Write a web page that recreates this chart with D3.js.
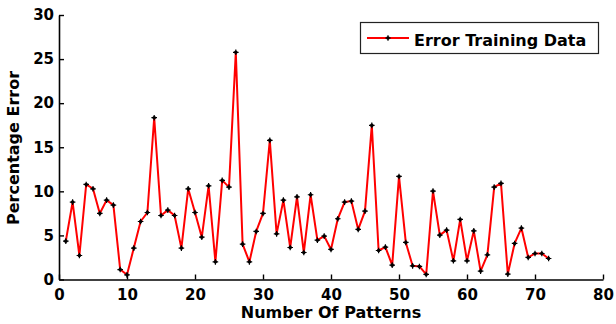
<!DOCTYPE html>
<html>
<head>
<meta charset="utf-8">
<script src="https://cdn.jsdelivr.net/npm/d3@7"></script>
<style>
  html, body { margin: 0; padding: 0; background: #fff; }
  svg { display: block; }
  text { font-family: "DejaVu Sans", sans-serif; font-weight: bold; fill: #000; }
</style>
</head>
<body>
<svg id="chart" width="616" height="324"></svg>
<script>
// Percentage error per training pattern
const patterns = d3.range(1, 73);
const errorValues = [
  4.35, 8.78, 2.72, 10.78, 10.29, 7.49, 9.0, 8.44, 1.13, 0.53,
  3.56, 6.58, 7.6, 18.35, 7.26, 7.87, 7.26, 3.56, 10.29, 7.6,
  4.8, 10.63, 2.0, 11.24, 10.48, 25.77, 4.01, 2.0, 5.45, 7.49,
  15.78, 5.18, 9.0, 3.63, 9.38, 3.06, 9.61, 4.46, 4.92, 3.41,
  6.89, 8.78, 8.89, 5.68, 7.76, 17.48, 3.29, 3.67, 1.63, 11.69,
  4.2, 1.55, 1.48, 0.57, 10.03, 5.03, 5.6, 2.12, 6.81, 2.12,
  5.52, 0.95, 2.8, 10.48, 10.9, 0.61, 4.09, 5.83, 2.5, 2.95,
  2.95, 2.38
];
const xTicks = [0, 10, 20, 30, 40, 50, 60, 70, 80];
const yTicks = [0, 5, 10, 15, 20, 25, 30];
const seriesName = "Error Training Data";
const xTitle = "Number Of Patterns";
const yTitle = "Percentage Error";

const svg = d3.select("#chart");
const x = d3.scaleLinear().domain([0, 80]).range([59, 603]);
const y = d3.scaleLinear().domain([0, 30]).range([279.5, 15]);

// axes with inward ticks
const xAxis = d3.axisBottom(x).tickValues(xTicks).tickSizeInner(-5).tickSizeOuter(0).tickPadding(10);
const yAxis = d3.axisLeft(y).tickValues(yTicks).tickSizeInner(-5).tickSizeOuter(0).tickPadding(5);

const gx = svg.append("g").attr("transform", `translate(0,${y(0)})`).call(xAxis);
const gy = svg.append("g").attr("transform", `translate(${x(0)},0)`).call(yAxis);
[gx, gy].forEach(g => {
  g.select(".domain").attr("stroke", "#000").attr("stroke-width", 1.6);
  g.selectAll(".tick line").attr("stroke", "#000").attr("stroke-width", 1.4);
  g.selectAll(".tick text").attr("font-size", 15).attr("font-family", "DejaVu Sans").attr("font-weight", "bold").attr("fill", "#000");
});

// data line
const line = d3.line().x((d, i) => x(patterns[i])).y(d => y(d));
svg.append("path")
  .datum(errorValues)
  .attr("fill", "none")
  .attr("stroke", "#ff0000")
  .attr("stroke-width", 2)
  .attr("stroke-linejoin", "round")
  .attr("d", line);

// point markers
const marker = (g, cx, cy) => {
  g.append("circle").attr("cx", cx).attr("cy", cy).attr("r", 1.8).attr("fill", "#000");
  g.append("path")
    .attr("d", `M${cx - 2.8},${cy}H${cx + 2.8}M${cx},${cy - 2.8}V${cy + 2.8}`)
    .attr("stroke", "#000").attr("stroke-width", 1.2);
};
const gm = svg.append("g");
errorValues.forEach((v, i) => marker(gm, x(patterns[i]), y(v)));

// axis titles
svg.append("text")
  .attr("x", (x(0) + x(80)) / 2 + 0).attr("y", 318)
  .attr("text-anchor", "middle").attr("font-size", 16)
  .text(xTitle);
svg.append("text")
  .attr("transform", "translate(19,148) rotate(-90)")
  .attr("text-anchor", "middle").attr("font-size", 16)
  .text(yTitle);

// legend
const lg = svg.append("g");
lg.append("rect").attr("x", 360.5).attr("y", 22.5).attr("width", 238).attr("height", 31)
  .attr("fill", "#fff").attr("stroke", "#222").attr("stroke-width", 1.2);
lg.append("line").attr("x1", 367).attr("x2", 409).attr("y1", 38).attr("y2", 38)
  .attr("stroke", "#ff0000").attr("stroke-width", 2);
marker(lg, 388, 38);
lg.append("text").attr("x", 414).attr("y", 45.5).attr("font-size", 16).text(seriesName);
</script>
</body>
</html>
